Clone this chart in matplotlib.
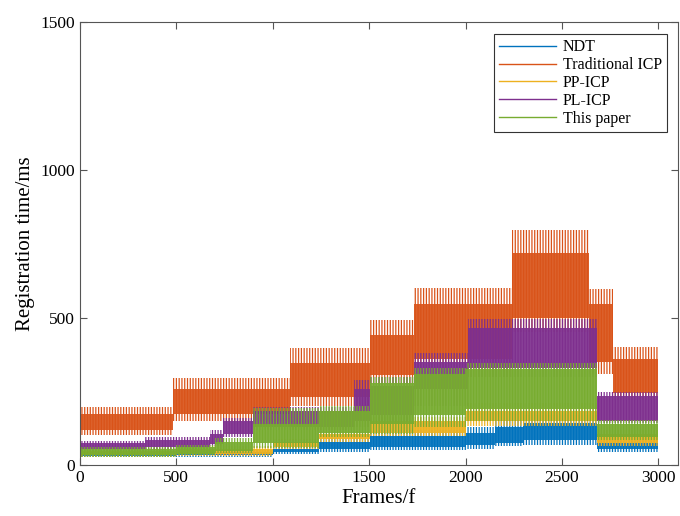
import numpy as np
import matplotlib
matplotlib.use("Agg")
import matplotlib.pyplot as plt
from matplotlib.lines import Line2D

plt.rcParams['font.family'] = ['Liberation Serif', 'DejaVu Serif']
plt.rcParams['hatch.linewidth'] = 0.9

names = ["NDT", "Traditional ICP", "PP-ICP", "PL-ICP", "This paper"]
colors = ["#0072BD", "#D95319", "#EDB120", "#7E2F8E", "#77AC30"]

# Each series: segment edges (frames) and per-segment envelope
# lo = lowest spikes, clo/chi = dense core, hi = highest spikes (ms)
ndt_edges = [0, 500, 1000, 1242, 1502, 2000, 2150, 2300, 2683, 3000]
ndt_lo  = [28, 30, 38, 45, 52, 55, 65, 70, 47]
ndt_clo = [32, 35, 45, 55, 62, 68, 75, 85, 55]
ndt_chi = [42, 45, 55, 80, 100, 110, 130, 145, 75]
ndt_hi  = [48, 52, 63, 92, 120, 130, 155, 170, 86]

icp_edges = [0, 483, 1087, 1502, 1735, 2243, 2640, 2763, 3000]
icp_lo  = [103, 150, 200, 275, 300, 450, 310, 220]
icp_clo = [120, 175, 230, 305, 360, 500, 350, 245]
icp_chi = [175, 260, 345, 440, 545, 720, 545, 360]
icp_hi  = [198, 296, 398, 492, 600, 795, 598, 400]

pp_edges = [0, 500, 1000, 1242, 1502, 2000, 2683, 3000]
pp_lo  = [30, 32, 55, 80, 100, 135, 65]
pp_clo = [35, 38, 62, 88, 110, 150, 75]
pp_chi = [50, 55, 80, 108, 150, 185, 105]
pp_hi  = [58, 65, 90, 118, 165, 211, 120]

pl_edges = [0, 337, 673, 742, 898, 1420, 1502, 1735, 2010, 2683, 3000]
pl_lo  = [50, 55, 65, 95, 120, 130, 150, 200, 300, 142]
pl_clo = [55, 62, 72, 105, 130, 150, 170, 260, 330, 150]
pl_chi = [75, 85, 105, 150, 185, 260, 270, 350, 465, 235]
pl_hi  = [82, 97, 120, 162, 198, 290, 300, 380, 497, 250]

tp_edges = [0, 500, 700, 900, 1242, 1502, 1735, 2000, 2683, 3000]
tp_lo  = [30, 35, 42, 60, 97, 108, 130, 150, 86]
tp_clo = [35, 40, 48, 75, 110, 140, 170, 190, 95]
tp_chi = [55, 62, 80, 140, 185, 280, 310, 325, 140]
tp_hi  = [63, 70, 92, 195, 200, 300, 330, 347, 153]

series = [
    (ndt_edges, ndt_lo, ndt_clo, ndt_chi, ndt_hi),
    (icp_edges, icp_lo, icp_clo, icp_chi, icp_hi),
    (pp_edges, pp_lo, pp_clo, pp_chi, pp_hi),
    (pl_edges, pl_lo, pl_clo, pl_chi, pl_hi),
    (tp_edges, tp_lo, tp_clo, tp_chi, tp_hi),
]

x_ticks = [0, 500, 1000, 1500, 2000, 2500, 3000]
y_ticks = [0, 500, 1000, 1500]


def steps(edges, vals):
    e = np.asarray(edges, float)
    v = np.asarray(vals, float)
    xs = np.column_stack([e[:-1], e[1:]]).ravel()
    ys = np.repeat(v, 2)
    return xs, ys


fig = plt.figure(figsize=(6.8, 5.16), dpi=100)
ax = fig.add_axes([0.1176, 0.0979, 0.8790, 0.8595])

for (edges, lo, clo, chi, hi), c in zip(series, colors):
    xs, ylo = steps(edges, lo)
    _, yclo = steps(edges, clo)
    _, ychi = steps(edges, chi)
    _, yhi = steps(edges, hi)
    # sparse spikes reaching the extremes
    ax.fill_between(xs, ylo, yhi, facecolor='none', edgecolor=c,
                    hatch='||||||', linewidth=0)
    # dense core of the noisy trace
    ax.fill_between(xs, yclo, ychi, color=c, alpha=0.92, linewidth=0)

ax.set_xlim(0, 3100)
ax.set_ylim(0, 1500)
ax.set_xticks(x_ticks)
ax.set_yticks(y_ticks)
ax.tick_params(direction='in', top=True, right=True, labelsize=12.5,
               color='#555555', length=5, width=0.8)
for sp in ax.spines.values():
    sp.set_color('#555555')
    sp.set_linewidth(0.8)
ax.set_xlabel("Frames/f", fontsize=15, labelpad=2)
ax.set_ylabel("Registration time/ms", fontsize=15, labelpad=4)

handles = [Line2D([0], [0], color=c, lw=1.0) for c in colors]
leg = ax.legend(handles, names, loc='upper right', bbox_to_anchor=(0.995, 0.99),
                fontsize=11.5, frameon=True, fancybox=False, framealpha=1,
                edgecolor='#333333', handlelength=3.6, handletextpad=0.4,
                borderpad=0.3, labelspacing=0.12)
leg.get_frame().set_linewidth(0.8)

fig.savefig("out.png", dpi=100)
